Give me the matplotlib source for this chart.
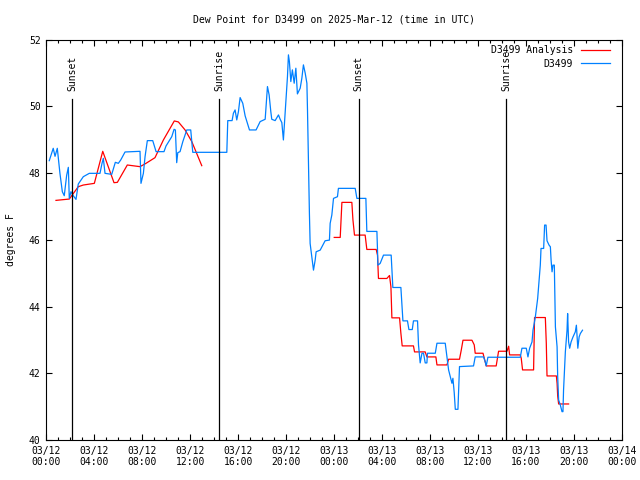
import matplotlib
matplotlib.use('Agg')
import matplotlib.pyplot as plt
import matplotlib.dates as mdates
import numpy as np
import pandas as pd

start = pd.Timestamp('2025-03-12 00:00')

# observed dew point (hours after 03/12 00:00 UTC, deg F)
obs_hours = [0.25, 0.58, 0.73, 0.92, 1.14, 1.34, 1.50, 1.70, 1.84, 1.92, 2.06, 2.25, 2.48, 2.67,
             3.09, 3.59, 4.48, 4.65, 4.76, 4.90, 5.46, 5.76, 6.01, 6.21, 6.57, 7.82, 7.90, 8.10,
             8.24, 8.43, 8.88, 9.16, 9.82, 9.99, 10.47, 10.66, 10.77, 10.88, 10.97, 11.16, 11.39,
             11.72, 12.05, 12.22, 15.06, 15.14, 15.50, 15.61, 15.75, 15.89, 16.03, 16.17, 16.39,
             16.59, 16.95, 17.50, 17.84, 18.26, 18.45, 18.59, 18.73, 18.81, 19.09, 19.37, 19.51,
             19.65, 19.78, 19.87, 20.01, 20.12, 20.20, 20.28, 20.40, 20.53, 20.68, 20.82, 20.95,
             21.18, 21.32, 21.45, 21.60, 21.74, 21.79, 21.87, 21.95, 22.01, 22.15, 22.29, 22.43,
             22.51, 22.85, 23.07, 23.26, 23.62, 23.68, 23.82, 23.96, 24.29, 24.37, 25.77, 25.91,
             26.66, 26.74, 27.58, 27.63, 27.66, 27.85, 28.13, 28.77, 28.91, 29.58, 29.75, 30.13,
             30.25, 30.53, 30.63, 30.97, 31.05, 31.19, 31.34, 31.47, 31.61, 31.75, 31.80, 32.45,
             32.59, 33.28, 33.42, 33.56, 33.70, 33.84, 33.92, 34.03, 34.12, 34.34, 34.47, 35.64,
             35.78, 36.48, 36.62, 36.70, 36.84, 39.54, 39.68, 40.04, 40.18, 40.32, 40.52, 40.60,
             40.79, 40.99, 41.10, 41.21, 41.27, 41.49, 41.57, 41.69, 41.77, 41.94, 42.05, 42.11,
             42.19, 42.27, 42.38, 42.47, 42.61, 42.66, 42.74, 42.88, 43.02, 43.10, 43.15, 43.30,
             43.44, 43.49, 43.57, 43.66, 43.78, 43.94, 44.13, 44.22, 44.34, 44.45, 44.55, 44.73]
obs_dewpt = [48.37, 48.74, 48.50, 48.74, 47.99, 47.44, 47.32, 47.93, 48.17, 47.24, 47.44, 47.32,
             47.21, 47.67, 47.89, 47.99, 47.99, 48.29, 48.44, 47.99, 47.96, 48.32, 48.29, 48.39,
             48.63, 48.65, 47.69, 47.99, 48.49, 48.97, 48.97, 48.64, 48.64, 48.81, 49.09, 49.31,
             49.29, 48.31, 48.61, 48.64, 48.94, 49.29, 49.29, 48.62, 48.62, 49.57, 49.57, 49.79,
             49.89, 49.59, 49.84, 50.26, 50.09, 49.71, 49.29, 49.29, 49.54, 49.61, 50.59, 50.34,
             49.84, 49.61, 49.57, 49.74, 49.61, 49.51, 48.99, 49.49, 50.29, 50.89, 51.54, 51.34,
             50.74, 51.09, 50.69, 51.14, 50.37, 50.54, 50.84, 51.24, 50.99, 50.69, 49.89, 48.29,
             46.79, 45.89, 45.49, 45.09, 45.39, 45.64, 45.69, 45.84, 45.97, 45.99, 46.49, 46.74,
             47.24, 47.29, 47.54, 47.54, 47.24, 47.24, 46.25, 46.25, 45.69, 45.24, 45.29, 45.54,
             45.54, 44.57, 44.57, 43.57, 43.57, 43.31, 43.31, 43.57, 43.57, 42.85, 42.31, 42.60,
             42.60, 42.31, 42.31, 42.60, 42.60, 42.90, 42.90, 42.49, 42.10, 41.90, 41.70, 41.85,
             41.42, 40.92, 40.92, 42.20, 42.22, 42.49, 42.49, 42.34, 42.22, 42.48, 42.48, 42.75,
             42.75, 42.49, 42.75, 42.94, 43.29, 43.67, 44.24, 44.74, 45.24, 45.74, 45.74, 46.44,
             46.44, 45.97, 45.84, 45.79, 45.39, 45.04, 45.24, 45.24, 43.39, 42.79, 41.90, 41.20,
             41.05, 40.85, 40.85, 41.50, 42.64, 43.29, 43.79, 42.94, 42.75, 42.94, 43.09, 43.24,
             43.44, 42.75, 43.09, 43.19, 43.29]

# analysis dew point, first day segment
ana1_hours = [0.81, 1.92, 2.67, 3.09, 4.01, 4.71, 5.65, 5.93, 6.76, 7.82, 8.32, 9.07, 9.77,
              10.68, 11.02, 11.58, 12.14, 12.97]
ana1_dewpt = [47.18, 47.22, 47.59, 47.64, 47.69, 48.65, 47.71, 47.72, 48.24, 48.19, 48.29, 48.46,
              48.99, 49.56, 49.53, 49.29, 48.94, 48.22]

# analysis dew point, second segment
ana2_hours = [24.02, 24.52, 24.66, 25.49, 25.58, 25.71, 26.60, 26.74, 27.52, 27.63, 27.71, 28.41,
              28.63, 28.75, 28.83, 29.47, 29.58, 29.69, 30.63, 30.72, 31.61, 31.75, 32.50, 32.59,
              33.42, 33.56, 34.47, 34.62, 34.76, 35.51, 35.70, 35.78, 36.43, 36.70, 37.53, 37.73,
              38.43, 38.57, 38.65, 39.54, 39.62, 39.73, 40.65, 40.73, 41.63, 41.71, 41.77, 42.55,
              42.61, 42.66, 42.74, 43.57]
ana2_dewpt = [46.07, 46.07, 47.12, 47.12, 46.60, 46.14, 46.14, 45.71, 45.71, 45.54, 44.84, 44.84,
              44.93, 44.59, 43.66, 43.66, 43.20, 42.82, 42.82, 42.64, 42.64, 42.49, 42.49, 42.25,
              42.25, 42.42, 42.42, 42.70, 42.99, 42.99, 42.85, 42.60, 42.60, 42.22, 42.22, 42.66,
              42.66, 42.81, 42.55, 42.55, 42.45, 42.10, 42.10, 43.67, 43.67, 42.90, 41.92, 41.92,
              41.70, 41.32, 41.08, 41.08]

sun_labels = ['Sunset', 'Sunrise', 'Sunset', 'Sunrise']
sun_hours = [2.14, 14.42, 26.06, 38.37]


def to_time(hours):
    return start + pd.to_timedelta(hours, unit='h')


plt.rcParams['font.family'] = 'DejaVu Sans Mono'
plt.rcParams['font.size'] = 7

fig = plt.figure(figsize=(6.4, 4.8), dpi=100)
ax = fig.add_axes([0.0723, 0.0833, 0.8991, 0.8344])

ax.plot(to_time(ana1_hours), ana1_dewpt, color='#ff0000', lw=0.9, label='D3499 Analysis')
ax.plot(to_time(ana2_hours), ana2_dewpt, color='#ff0000', lw=0.9)
ax.plot(to_time(obs_hours), obs_dewpt, color='#0080ff', lw=0.9, label='D3499')

for name, h in zip(sun_labels, sun_hours):
    t = to_time(h)
    ax.plot([t, t], [40, 50.22], color='black', lw=0.9)
    ax.text(t, 50.45, name, rotation=90, ha='center', va='bottom', fontsize=7)

ax.set_xlim(start, start + pd.Timedelta(hours=48))
ax.set_ylim(40, 52)
ax.set_yticks(np.arange(40, 53, 2))
ax.xaxis.set_major_locator(mdates.HourLocator(byhour=range(0, 24, 4)))
ax.xaxis.set_minor_locator(mdates.HourLocator())
ax.xaxis.set_major_formatter(mdates.DateFormatter('%m/%d\n%H:%M'))

ax.tick_params(which='both', direction='in', top=True, right=True, width=0.8, pad=4)
ax.tick_params(which='major', length=4)
ax.tick_params(which='minor', length=2.5)
for s in ax.spines.values():
    s.set_linewidth(0.8)

ax.set_ylabel('degrees F', labelpad=9)
ax.set_title('Dew Point for D3499 on 2025-Mar-12 (time in UTC)', fontsize=7, pad=12)

ax.legend(loc='upper right', bbox_to_anchor=(0.99, 1.0), frameon=False, markerfirst=False,
          handlelength=3.0, handletextpad=0.8, labelspacing=0.35, borderaxespad=0.2)

fig.savefig('out.png', dpi=100)
